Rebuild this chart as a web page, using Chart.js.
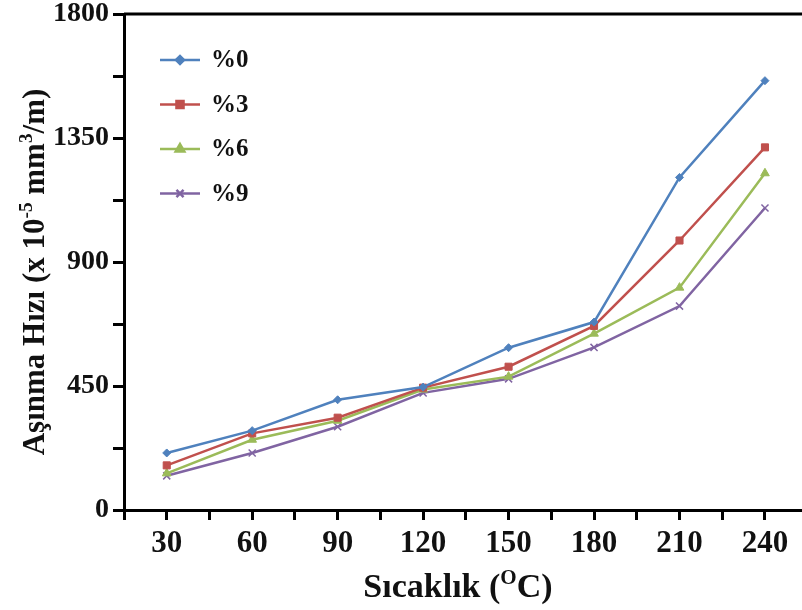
<!DOCTYPE html>
<html>
<head>
<meta charset="utf-8">
<script src="https://cdn.jsdelivr.net/npm/chart.js@4.4.1/dist/chart.umd.min.js"></script>
<style>
  html, body { margin: 0; padding: 0; background: #fff; overflow: hidden; }
  #wrap { width: 802px; height: 610px; }
  canvas { display: block; }
</style>
</head>
<body>
<div id="wrap"><canvas id="canvas" width="802" height="610"></canvas></div>
<script>
// temperatures (x) and wear rates for each additive ratio
var temps = [30, 60, 90, 120, 150, 180, 210, 240];
var labels = ['%0', '%3', '%6', '%9'];
var rate0 = [207, 288, 400, 446, 589, 682, 1207, 1558];
var rate3 = [162, 278, 335, 444, 520, 668, 978, 1316];
var rate6 = [133, 255, 324, 437, 484, 640, 807, 1222];
var rate9 = [124, 207, 302, 425, 476, 590, 740, 1096];
var yTicks = [0, 450, 900, 1350, 1800];

var colors = ['#4f81bd', '#c0504d', '#9bbb59', '#8064a2'];
var shapes = ['rectRot', 'rect', 'triangle', 'crossRot'];
var radii = [4, 5, 5, 5];
var series = [rate0, rate3, rate6, rate9];

var FONT = "'Liberation Serif', 'Times New Roman', serif";

function pts(vals) {
    return vals.map(function (v, i) { return { x: temps[i], y: v }; });
}

var datasets = series.map(function (vals, i) {
    return {
        label: labels[i],
        data: pts(vals),
        borderColor: colors[i],
        backgroundColor: colors[i],
        borderWidth: 2.5,
        pointStyle: shapes[i],
        pointRadius: radii[i],
        pointBorderWidth: shapes[i] == 'crossRot' ? 1.5 : 1,
        tension: 0
    };
});

// draws the axis titles (with superscripts), frame top line and legend
function drawText(ctx, parts, size) {
    // parts: [text, isSup]
    let w = 0;
    parts.forEach(function (p) {
        ctx.font = 'bold ' + (p[1] ? size * 0.62 : size) + 'px ' + FONT;
        w += ctx.measureText(p[0]).width;
    });
    let x = -w / 2;
    parts.forEach(function (p) {
        ctx.font = 'bold ' + (p[1] ? size * 0.62 : size) + 'px ' + FONT;
        ctx.fillText(p[0], x, p[1] ? -size * 0.38 : 0);
        x += ctx.measureText(p[0]).width;
    });
}

var extras = {
    id: 'extras',
    afterDraw: function (chart) {
        let ctx = chart.ctx;
        let area = chart.chartArea;
        ctx.save();
        ctx.fillStyle = '#111';
        ctx.textAlign = 'left';
        ctx.textBaseline = 'alphabetic';

        // top frame line
        ctx.strokeStyle = '#000';
        ctx.lineWidth = 3;
        ctx.beginPath();
        ctx.moveTo(area.left, area.top);
        ctx.lineTo(area.right, area.top);
        ctx.stroke();

        // y title
        ctx.save();
        ctx.translate(44, 272);
        ctx.rotate(-Math.PI / 2);
        drawText(ctx, [['Aşınma Hızı (x 10', false], ['-5', true], [' mm', false], ['3', true], ['/m)', false]], 31);
        ctx.restore();

        // x title
        ctx.save();
        ctx.translate(458, 597);
        drawText(ctx, [['Sıcaklık (', false], ['O', true], ['C)', false]], 34);
        ctx.restore();

        // legend
        chart.data.datasets.forEach(function (ds, i) {
            let y = 60 + i * 44.5;
            ctx.strokeStyle = ds.borderColor;
            ctx.lineWidth = 2.5;
            ctx.beginPath();
            ctx.moveTo(160, y);
            ctx.lineTo(200, y);
            ctx.stroke();
            ctx.fillStyle = ds.backgroundColor;
            Chart.helpers.drawPoint(ctx, {
                pointStyle: ds.pointStyle, radius: ds.pointRadius,
                borderWidth: ds.pointBorderWidth, rotation: 0
            }, 180, y);
            ctx.fillStyle = '#111';
            ctx.font = 'bold 25px ' + FONT;
            ctx.textBaseline = 'middle';
            ctx.fillText(ds.label, 211, y + 1);
            ctx.textBaseline = 'alphabetic';
        });
        ctx.restore();
    }
};

var ctx = document.getElementById('canvas').getContext('2d');
var chart = new Chart(ctx, {
    type: 'line',
    data: { datasets: datasets },
    plugins: [extras],
    options: {
        responsive: false,
        animation: false,
        devicePixelRatio: 1,
        layout: { autoPadding: false, padding: { top: 14, right: 0, left: 0, bottom: 0 } },
        plugins: { legend: { display: false }, tooltip: { enabled: false } },
        scales: {
            x: {
                type: 'linear',
                min: 15,
                max: 253,
                afterFit: function (s) { s.height = 100; s.paddingLeft = 0; s.paddingRight = 0; },
                border: { display: true, color: '#000', width: 3 },
                grid: { drawOnChartArea: false, drawTicks: true, tickLength: 10, tickWidth: 3, tickColor: '#000' },
                ticks: {
                    stepSize: 15,
                    includeBounds: false,
                    autoSkip: false,
                    maxRotation: 0,
                    padding: 5,
                    color: '#111',
                    font: { family: FONT, size: 31, weight: 'bold' },
                    callback: function (v) { return (v % 30 == 0 && temps.indexOf(v) >= 0) ? v : ''; }
                }
            },
            y: {
                min: 0,
                max: 1800,
                afterFit: function (s) { s.width = 124; s.paddingTop = 0; s.paddingBottom = 0; },
                border: { display: true, color: '#000', width: 3 },
                grid: { drawOnChartArea: false, drawTicks: true, tickLength: 11, tickWidth: 3, tickColor: '#000' },
                ticks: {
                    stepSize: 225,
                    autoSkip: false,
                    padding: 4,
                    color: '#111',
                    font: { family: FONT, size: 28, weight: 'bold' },
                    callback: function (v) { return yTicks.indexOf(v) >= 0 ? v : ''; }
                }
            }
        }
    }
});
</script>
</body>
</html>
